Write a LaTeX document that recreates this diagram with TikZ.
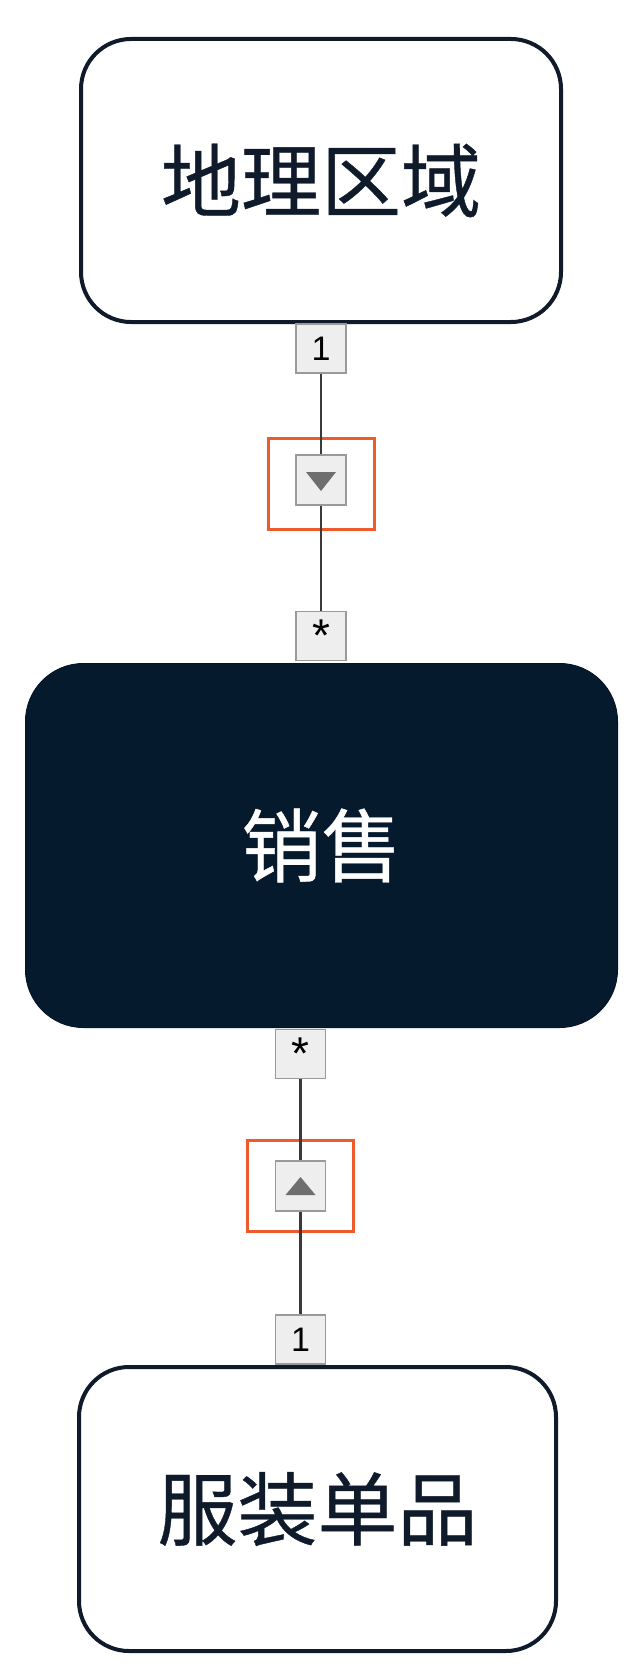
\documentclass[tikz,border=0pt]{standalone}
\usepackage{fontspec}
\newfontfamily\cjk[FakeBold=0.5]{Noto Sans CJK SC}
\newfontfamily\lab{Liberation Sans}
\definecolor{navy}{HTML}{061A2E}
\definecolor{inkc}{HTML}{0F1A2B}
\definecolor{redc}{HTML}{EE5A2C}
\definecolor{boxg}{HTML}{EEEEEE}
\definecolor{boxb}{HTML}{9A9A9A}
\definecolor{linec}{HTML}{3A3A3A}
\definecolor{trig}{HTML}{6E6E6E}
\tikzset{
  entity/.style={draw=inkc, line width=4pt, fill=white, rounded corners=50pt, inner sep=0pt,
    font=\cjk\fontsize{80}{80}\selectfont, text=inkc},
  darkentity/.style={draw=navy!80!black, line width=1pt, fill=navy, rounded corners=58pt, inner sep=0pt,
    font=\cjk\fontsize{80}{80}\selectfont, text=white},
  mult/.style={draw=boxb, line width=1.5pt, fill=boxg, inner sep=0pt, minimum width=50pt, minimum height=49pt,
    font=\lab\fontsize{34}{34}\selectfont},
  navbox/.style={draw=boxb, line width=1.5pt, fill=boxg, inner sep=0pt, minimum width=50pt, minimum height=50pt},
  hilite/.style={draw=redc, line width=3pt, inner sep=0pt, minimum width=106pt, minimum height=91pt},
  conn/.style={draw=linec, line width=2.6pt},
  tri/.style={fill=trig, draw=none}
}
\newcommand{\starlbl}{\raisebox{-9pt}{\fontsize{46}{46}\selectfont *}}
\begin{document}
\begin{tikzpicture}[x=1pt,y=-1pt]
\useasboundingbox[fill=white] (0,0) rectangle (638,1680);

% entities
\node[entity, minimum width=480pt, minimum height=283pt] (geo) at (321,180.5) {地理区域};
\node[darkentity, minimum width=592pt, minimum height=364pt] (sales) at (321.5,845.5) {销售};
\node[entity, minimum width=477pt, minimum height=284pt] (item) at (317.5,1509) {服装单品};

% top association
\node[mult] (m1) at (321,348.5) {1};
\node[hilite] (r1) at (321.5,484) {};
\node[navbox] (n1) at (321,480) {};
\node[mult] (s1) at (321,636) {\starlbl};
\draw[conn] (m1) -- (n1);
\draw[conn] (n1) -- (s1);
\fill[tri] ([xshift=-15pt,yshift=8pt]n1.center) -- ([xshift=15pt,yshift=8pt]n1.center) -- ([yshift=-11pt]n1.center) -- cycle;

% bottom association
\node[mult] (s2) at (300.5,1054) {\starlbl};
\node[hilite] (r2) at (300.5,1185.5) {};
\node[navbox] (n2) at (300.5,1186) {};
\node[mult] (m2) at (300.5,1339.5) {1};
\draw[conn] (s2) -- (n2);
\draw[conn] (n2) -- (m2);
\fill[tri] ([xshift=-15pt,yshift=-9pt]n2.center) -- ([xshift=15pt,yshift=-9pt]n2.center) -- ([yshift=9pt]n2.center) -- cycle;
\end{tikzpicture}
\end{document}
